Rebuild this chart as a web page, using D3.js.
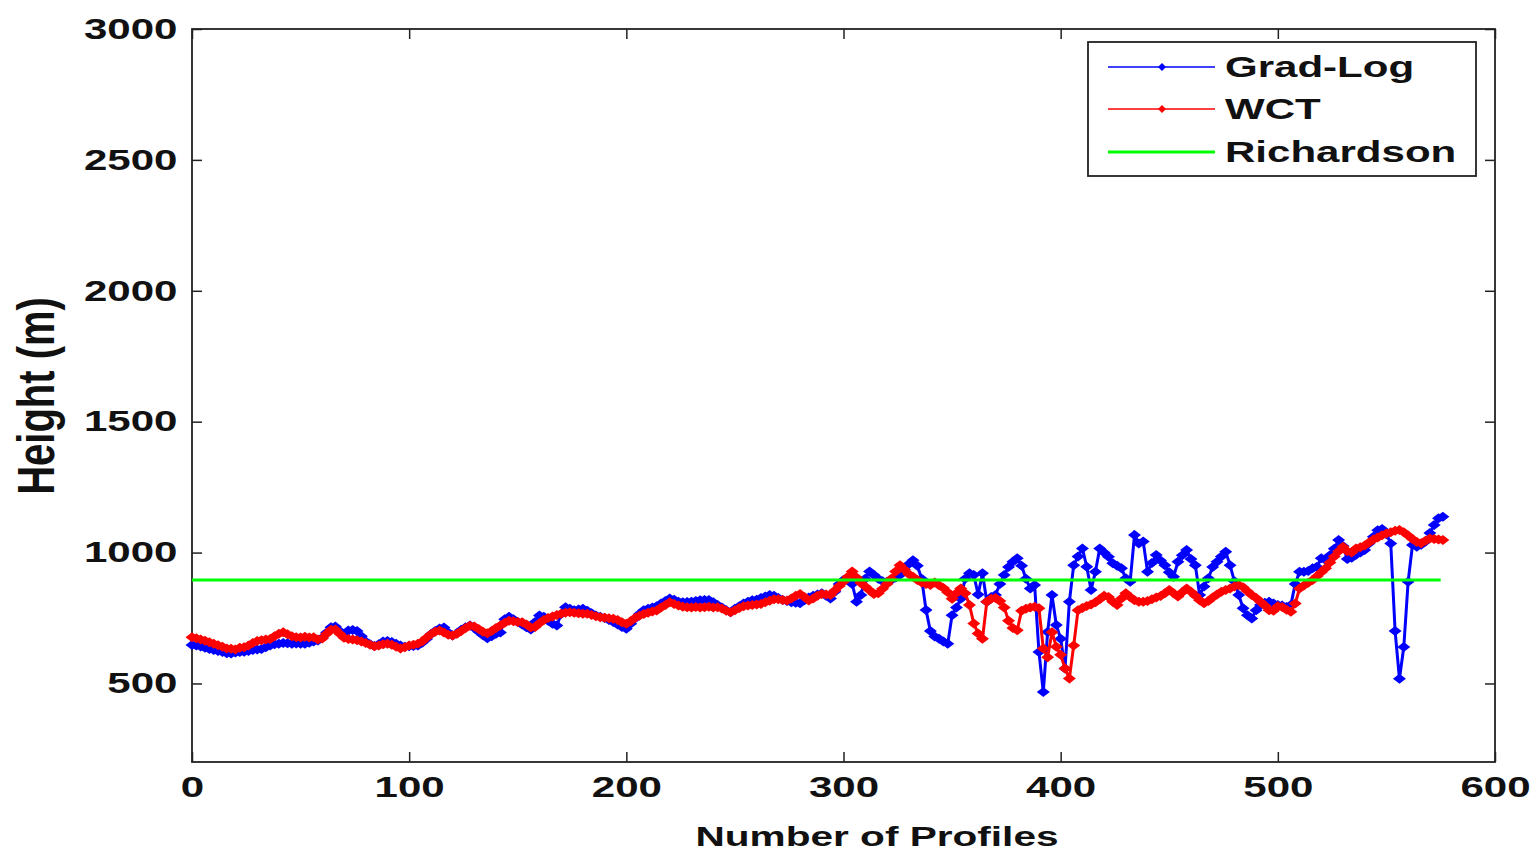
<!DOCTYPE html>
<html lang="en">
<head>
<meta charset="utf-8">
<title>Boundary layer height per profile</title>
<script src="https://cdn.jsdelivr.net/npm/d3@7"></script>
<style>
  body { margin: 0; background: #fff; }
  svg text { font-family: "Liberation Sans", Arial, sans-serif; font-weight: bold; fill: #111; }
</style>
</head>
<body>
<script>
// profile numbers (one sample every 2 profiles)
var profiles = d3.range(0, 577, 2);

// Grad-Log heights (m)
var gradLog = [
  647,645,641,636,632,628,624,620,615,614,
  618,620,621,624,628,630,632,638,645,650,
  652,655,654,652,653,652,652,656,660,664,
  675,695,715,718,700,685,702,704,700,680,
  660,650,643,650,660,662,658,652,645,640,
  642,643,645,656,670,688,700,710,714,695,
  683,692,705,715,721,712,698,684,673,680,
  690,695,745,755,745,735,725,715,706,735,
  760,755,740,728,721,765,791,785,780,783,
  785,778,768,760,755,750,742,735,725,716,
  709,728,748,765,780,785,790,795,805,815,
  825,820,812,810,811,812,815,818,819,819,
  810,800,790,780,772,785,795,805,812,818,
  820,826,832,838,835,826,819,815,810,808,
  806,818,828,835,840,845,835,825,850,880,
  895,900,880,812,838,900,928,914,900,890,
  889,895,905,914,935,955,971,950,900,781,
  700,679,671,660,652,761,790,824,900,921,
  914,840,921,812,830,838,880,914,945,965,
  978,950,900,863,876,620,467,697,838,723,
  671,557,812,952,985,1016,946,857,927,1016,
  1000,984,959,950,940,902,889,1067,1035,1042,
  927,960,991,970,952,925,908,965,990,1010,
  975,952,838,870,902,945,965,985,1003,952,
  890,838,787,761,748,780,800,808,812,805,
  800,798,792,800,880,927,927,930,940,946,
  978,972,990,1015,1048,1025,975,980,992,1000,
  1010,1035,1060,1085,1090,1070,1035,700,518,639,
  889,1029,1022,1030,1042,1075,1105,1131,1137
];

// WCT heights (m)
var wct = [
  677,673,668,663,657,652,646,640,634,633,
  630,636,638,645,655,662,665,668,670,680,
  690,696,688,680,677,676,678,676,677,668,
  672,690,705,706,690,675,670,668,665,660,
  655,648,642,645,650,652,648,640,634,638,
  645,648,652,660,675,688,698,702,695,686,
  683,690,700,712,720,718,708,698,692,700,
  712,721,732,740,738,735,734,725,714,716,
  730,742,750,756,762,766,770,772,770,768,
  766,766,762,757,753,751,749,747,742,734,
  728,738,750,759,765,770,775,779,790,800,
  810,804,798,793,791,790,792,790,791,793,
  790,791,786,778,772,780,788,795,798,800,
  802,804,810,816,822,822,819,817,825,835,
  842,830,817,825,835,842,840,838,855,872,
  889,908,928,905,884,870,856,842,845,862,
  880,900,928,952,935,918,908,895,886,880,
  876,886,875,865,848,824,845,863,845,800,
  729,691,671,812,824,826,815,790,740,712,
  703,778,785,790,793,787,634,600,696,640,
  610,557,519,645,780,788,796,802,810,822,
  835,830,812,800,825,845,830,818,812,812,
  815,822,828,834,845,857,845,832,848,863,
  850,835,818,806,815,828,840,850,857,863,
  870,876,868,852,838,826,812,798,780,778,
  795,792,782,774,805,863,874,885,895,910,
  925,940,962,985,1005,1022,1005,1000,1016,1020,
  1027,1038,1050,1058,1066,1073,1078,1083,1086,1078,
  1065,1052,1040,1036,1045,1054,1052,1050,1048
];

// Richardson height (m), constant over profiles 0..575
var richardson = [[0, 895], [575, 895]];

var xTicks = [0, 100, 200, 300, 400, 500, 600];
var yTicks = [500, 1000, 1500, 2000, 2500, 3000];
var legendNames = ["Grad-Log", "WCT", "Richardson"];
var colors = ["#0000ff", "#ff0000", "#00ff00"];

drawChart();

function drawChart() {
  var W = 1537, H = 857;
  var plotLeft = 192, plotRight = 1495, plotTop = 29, plotBottom = 762;
  var stretch = 1.45;

  var svg = d3.select("body").append("svg")
    .attr("width", W).attr("height", H);

  svg.append("rect").attr("width", W).attr("height", H).attr("fill", "#fff");

  var x = d3.scaleLinear().domain([0, 600]).range([plotLeft, plotRight]);
  var y = d3.scaleLinear().domain([200, 3000]).range([plotBottom, plotTop]);

  // axes with inward ticks on all four sides
  function styleAxis(g) {
    g.select(".domain").remove();
    g.selectAll(".tick line").attr("stroke", "#222").attr("stroke-width", 1.5);
  }

  var gx = svg.append("g").attr("transform", "translate(0," + plotBottom + ")")
    .call(d3.axisBottom(x).tickValues(xTicks).tickFormat(d3.format("d"))
      .tickSizeInner(-10).tickSizeOuter(0).tickPadding(14))
    .call(styleAxis);
  gx.selectAll(".tick text")
    .attr("font-size", 29).attr("font-family", null).attr("fill", "#111")
    .attr("transform", "scale(" + stretch + ",1)");

  var gy = svg.append("g").attr("transform", "translate(" + plotLeft + ",0)")
    .call(d3.axisLeft(y).tickValues(yTicks).tickFormat(d3.format("d"))
      .tickSizeInner(-10).tickSizeOuter(0).tickPadding(10))
    .call(styleAxis);
  gy.selectAll(".tick text")
    .attr("font-size", 29).attr("font-family", null).attr("fill", "#111")
    .attr("transform", "scale(" + stretch + ",1)");

  svg.append("g").attr("transform", "translate(0," + plotTop + ")")
    .call(d3.axisTop(x).tickValues(xTicks).tickSizeInner(-10).tickSizeOuter(0).tickFormat(""))
    .call(styleAxis);
  svg.append("g").attr("transform", "translate(" + plotRight + ",0)")
    .call(d3.axisRight(y).tickValues(yTicks).tickSizeInner(-10).tickSizeOuter(0).tickFormat(""))
    .call(styleAxis);

  svg.append("rect")
    .attr("x", plotLeft).attr("y", plotTop)
    .attr("width", plotRight - plotLeft).attr("height", plotBottom - plotTop)
    .attr("fill", "none").attr("stroke", "#222").attr("stroke-width", 1.8);

  // axis titles
  svg.append("text")
    .attr("transform", "translate(877,846) scale(" + stretch + ",1)")
    .attr("text-anchor", "middle").attr("font-size", 28)
    .text("Number of Profiles");

  svg.append("text")
    .attr("transform", "translate(54,396) scale(1.3,1) rotate(-90)")
    .attr("text-anchor", "middle").attr("font-size", 40)
    .text("Height (m)");

  // series
  var diamond = "M-6.5,0L0,-5L6.5,0L0,5Z";
  var line = d3.line().x(function(d) { return x(d[0]); }).y(function(d) { return y(d[1]); });

  function drawSeries(values, color) {
    var pts = profiles.map(function(p, i) { return [p, values[i]]; });
    var g = svg.append("g");
    g.append("path").attr("d", line(pts))
      .attr("fill", "none").attr("stroke", color).attr("stroke-width", 3);
    g.selectAll("path.m").data(pts).enter().append("path")
      .attr("class", "m")
      .attr("d", diamond)
      .attr("transform", function(d) { return "translate(" + x(d[0]) + "," + y(d[1]) + ")"; })
      .attr("fill", color);
  }

  drawSeries(gradLog, colors[0]);
  drawSeries(wct, colors[1]);

  svg.append("path").attr("d", line(richardson))
    .attr("fill", "none").attr("stroke", colors[2]).attr("stroke-width", 3);

  // legend
  var lg = svg.append("g");
  lg.append("rect").attr("x", 1088).attr("y", 42).attr("width", 388).attr("height", 134)
    .attr("fill", "#fff").attr("stroke", "#222").attr("stroke-width", 1.8);

  var rowY = [67, 109, 152];
  legendNames.forEach(function(name, i) {
    lg.append("line").attr("x1", 1108).attr("x2", 1215).attr("y1", rowY[i]).attr("y2", rowY[i])
      .attr("stroke", colors[i]).attr("stroke-width", i === 2 ? 3 : 1.6);
    if (i < 2) {
      lg.append("path").attr("d", "M-4,0L0,-4L4,0L0,4Z")
        .attr("transform", "translate(1162," + rowY[i] + ")").attr("fill", colors[i]);
    }
    lg.append("text")
      .attr("transform", "translate(1225," + rowY[i] + ") scale(" + stretch + ",1)")
      .attr("dy", "0.36em").attr("font-size", 29)
      .text(name);
  });
}
</script>
</body>
</html>
